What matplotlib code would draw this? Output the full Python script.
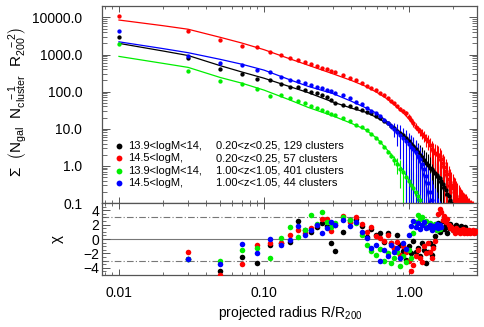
import matplotlib
matplotlib.use("Agg")
import matplotlib.pyplot as plt
from matplotlib.ticker import FuncFormatter, LogLocator, MultipleLocator, NullFormatter

plt.rcParams["font.family"] = ["Liberation Sans", "DejaVu Sans"]
plt.rcParams["mathtext.fontset"] = "custom"
plt.rcParams["mathtext.rm"] = "Liberation Sans"
plt.rcParams["mathtext.it"] = "Liberation Sans"

# radial bins (R/R200)
R_BINS = [
    0.01, 0.03, 0.05, 0.07, 0.09, 0.11, 0.13, 0.15, 0.17, 0.19, 0.21, 0.23, 0.25, 0.27, 0.29, 0.31,
    0.35, 0.39, 0.43, 0.47, 0.51, 0.55, 0.59, 0.63, 0.67, 0.71, 0.75, 0.79, 0.83, 0.87, 0.91, 0.95, 0.99,
    1.03, 1.07, 1.11, 1.15, 1.19, 1.23, 1.27, 1.31, 1.35, 1.39, 1.43, 1.47, 1.51, 1.55, 1.59, 1.63,
    1.67, 1.71, 1.75, 1.79, 1.83, 1.87, 1.91, 1.95, 1.99, 2.03, 2.07, 2.11, 2.15, 2.19, 2.23, 2.27,
    2.31, 2.35, 2.39, 2.43, 2.47, 2.51, 2.55, 2.59, 2.63, 2.67, 2.71, 2.75, 2.79, 2.83, 2.87,
]

# black: 13.9<logM<14, 0.20<z<0.25
black_sigma = [
    2940, 800, 415, 290, 215, 200, 160, 134, 136, 110, 100, 90, 79, 73, 60, 49,
    43, 41, 37, 33, 29, 26, 21.5, 19, 16.5, 14, 12, 10.2, 8.9, 7.6, 6.9, 5.5, 4.8,
    4.0, 3.4, 2.8, 2.3, 2.0, 1.7, 1.45, 1.2, 1.05, 0.9, 0.82, 0.75, 0.65, 0.56, 0.5, 0.46,
    0.38, 0.33, 0.27, 0.22, 0.18, 0.15, 0.12, 0.1, 0.08, 0.07, 0.06, 0.05, 0.05, 0.04, 0.04, 0.03,
    0.03, 0.03, 0.02, 0.02, 0.02,
]
black_err = [
    0, 0, 0, 0, 0, 0, 0, 0, 0, 0, 0, 0, 0, 0, 0, 0,
    0, 0, 0, 0, 0, 0, 0, 0, 0, 0, 0, 0, 0, 0, 1.5, 2.0, 2.2,
    2.2, 2.0, 1.9, 1.8, 1.6, 1.5, 1.3, 1.2, 1.1, 0.95, 0.85, 0.8, 0.7, 0.65, 0.6, 0.55,
    0.5, 0.45, 0.4, 0.35, 0.3, 0.28, 0.25, 0.22, 0.2, 0.18, 0.16, 0.15, 0.13, 0.12, 0.11, 0.1,
    0.08, 0.07, 0.06, 0.05, 0.05,
]
black_chi = [
    6.5, -2.8, -4.4, -2.45, -3.3, -0.8, -0.6, -0.4, 2.55, 1.3, 1.0, 1.6, 2.2, 1.8, -0.6, -1.7,
    1.0, 2.6, 2.8, 1.8, 0.3, 1.4, 0.5, 0.9, -0.4, 0.8, -0.6, -1.2, 0.5, -0.9, -1.6, -2.9, -1.0,
    -2.0, -0.3, -1.8, -1.2, -2.4, -0.6, -1.5, -3.3, -1.8, -0.5, -2.2, -1.0, 0.4, 1.3, 2.2, 1.0,
    1.6, 2.5, 1.4, 1.9, 0.8, 1.5, 2.1, 1.7, 1.2, 1.6, 1.3, 1.9, 1.5, 1.1, 1.4, 1.8,
    1.2, 1.5, 1.3, 1.6, 1.1,
]

# red: 14.5<logM, 0.20<z<0.25
red_sigma = [
    11000, 4200, 2400, 1750, 1550, 1200, 950, 790, 720, 640, 560, 500, 445, 405, 355, 330,
    285, 235, 205, 168, 140, 126, 108, 92, 81, 67, 57, 49, 42, 35, 31, 26, 21,
    17.5, 14, 11.5, 9.8, 8.5, 7.4, 6.5, 5.2, 4.6, 3.6, 2.9, 2.5, 2.2, 2.1, 2.0, 1.8,
    1.5, 1.2, 0.95, 0.75, 0.6, 0.45, 0.36, 0.3, 0.25, 0.2, 0.18, 0.15, 0.13, 0.11, 0.09, 0.08,
    0.07, 0.06, 0.06, 0.05, 0.05, 0.04, 0.04, 0.04, 0.03, 0.03, 0.03, 0.03, 0.02, 0.02, 0.02,
]
red_err = [
    0, 0, 0, 0, 0, 0, 0, 0, 0, 0, 0, 0, 0, 0, 0, 0,
    0, 0, 0, 0, 0, 0, 0, 0, 0, 0, 0, 0, 0, 4, 4, 4, 4,
    3.5, 3, 2.5, 2.2, 2.2, 2.2, 2.2, 2.0, 2.0, 1.9, 1.8, 1.7, 1.6, 1.5, 1.4, 1.3,
    1.1, 0.95, 0.85, 0.75, 0.65, 0.55, 0.45, 0.4, 0.35, 0.3, 0.28, 0.25, 0.22, 0.2, 0.18, 0.16,
    0.15, 0.14, 0.13, 0.12, 0.12, 0.11, 0.1, 0.1, 0.09, 0.09, 0.08, 0.08, 0.07, 0.07, 0.06,
]
red_chi = [
    7.0, -1.76, -4.95, -3.47, -0.79, -0.56, -0.5, 0.5, 1.2, 0.8, 1.5, 2.0, 2.8, 2.8, 1.1, 2.0,
    3.2, 2.4, 3.0, 2.1, 1.0, 1.6, 0.4, 0.2, -0.3, 0.6, -0.6, -1.2, -0.4, -2.2, -1.0, -1.8, -3.0,
    -4.4, -3.6, -2.4, -1.5, -2.6, -3.2, -1.0, -2.0, -0.5, -1.8, -2.6, -1.2, -0.3, 1.8, 3.5, 4.2,
    3.8, 2.6, 3.2, 2.3, 2.8, 1.9, 1.5, 1.7, 1.2, 1.3, 0.9, 1.5, 1.1, 1.3, 0.8, 1.2,
    1.0, 1.4, 0.9, 1.1, 1.3, 0.8, 1.0, 1.2, 0.9, 1.1, 1.0, 1.2, 0.9, 1.0, 1.1,
]

# green: 13.9<logM<14, 1.00<z<1.05
green_sigma = [
    1900, 350, 190, 165, 120, 78, 79, 66, 56, 48, 41, 36, 32, 28.5, 25.5, 23,
    19.5, 16, 13, 11.2, 9.0, 7.2, 5.6, 4.3, 3.3, 2.4, 1.9, 1.45, 1.1, 0.85, 0.68, 0.5, 0.38,
    0.30, 0.25, 0.2, 0.15, 0.12, 0.06, 0.05, 0.04, 0.04, 0.03, 0.03, 0.03, 0.02, 0.02, 0.02, 0.02,
]
green_err = [
    0, 0, 0, 0, 0, 0, 0, 0, 0, 0, 0, 0, 0, 0, 0, 0,
    0, 0, 0, 0, 0, 0, 0, 0, 0, 0, 0.3, 0.4, 0.5, 0.6, 0.65, 0.6, 0.5,
    0.5, 0.45, 0.4, 0.35, 0.3, 0.06, 0.05, 0.05, 0.04, 0.04, 0.04, 0.03, 0.03, 0.03, 0.03, 0.03,
]
green_chi = [
    7.0, -2.8, -3.0, -1.5, -1.2, -2.7, 0.2, 1.6, 0.3, 1.2, 3.3, 2.1, 3.8, 2.4, 1.6, 2.2,
    3.0, 2.6, 2.2, 0.6, -0.8, -1.6, -2.2, -1.4, -3.0, -2.0, -3.4, -2.6, -1.8, -3.8, -2.4, -3.2, -1.5,
    -2.6, 0.8, 2.4, 3.4, 2.8, 3.0, 2.0, 2.5, 1.6, 2.2, 1.4, 1.8, 2.1, 1.2, 1.7, 1.4,
]

# blue: 14.5<logM, 1.00<z<1.05
blue_sigma = [
    4200, 890, 600, 530, 390, 340, 255, 208, 195, 172, 155, 133, 124, 110, 102, 93,
    80, 66, 54, 46, 37, 31, 26, 21.5, 17.5, 14, 12, 10, 8.4, 7.0, 5.8, 4.6, 3.8,
    3.2, 2.9, 2.4, 1.9, 1.5, 1.1, 0.8, 0.55, 0.35, 0.2, 0.12, 0.08, 0.06, 0.05, 0.04, 0.03,
    0.03,
]
blue_err = [
    0, 0, 0, 0, 0, 0, 0, 0, 0, 0, 0, 0, 0, 0, 0, 0,
    0, 0, 0, 0, 0, 0, 0, 0, 0, 0, 2, 4, 5, 5.5, 5.0, 4.6, 4.0,
    3.4, 3.1, 2.6, 2.1, 1.7, 1.3, 1.0, 0.8, 0.6, 0.45, 0.3, 0.25, 0.2, 0.15, 0.1, 0.08,
    0.06,
]
blue_chi = [
    7.0, -2.8, -3.5, -0.74, -1.9, 0.0, -0.9, -0.2, 1.8, 0.5, 1.2, 2.0, 0.9, 1.5, 2.4, 2.0,
    2.6, 1.8, 2.3, 1.0, 0.2, -1.2, -0.8, -3.1, -1.5, -2.3, -0.9, -1.8, -1.2, -2.6, -0.5, -1.4, 0.6,
    1.8, 2.5, 1.6, 2.2, 1.4, 1.9, 2.3, 1.5, 1.7, 2.0, 1.3, 1.8, 1.6, 2.1, 1.5, 1.9,
    1.7,
]

# fitted profiles
MODEL_R = [0.01, 0.02, 0.03, 0.05, 0.07, 0.1, 0.15, 0.2, 0.3, 0.4, 0.5, 0.6, 0.7,
           0.8, 0.9, 1.0, 1.1, 1.2, 1.3, 1.4, 1.5, 1.6, 1.7, 1.8, 1.9, 2.0]
black_model = [2000, 1250, 940, 500, 340, 230, 137, 95, 52, 36, 28, 20, 14,
               10, 7.2, 5.0, 3.3, 2.1, 1.4, 0.9, 0.6, 0.4, 0.25, 0.15, 0.09]
red_model = [8500, 6000, 4800, 2900, 2050, 1350, 770, 520, 300, 200, 140, 95, 65,
             42, 28, 18, 12, 8.5, 5.8, 3.9, 2.5, 1.6, 0.95, 0.5, 0.22, 0.08]
green_model = [890, 580, 450, 240, 170, 110, 60, 38, 22, 14, 9.5, 5.5, 2.8,
               1.5, 0.8, 0.4, 0.18, 0.07]
blue_model = [2200, 1450, 1120, 740, 550, 380, 210, 140, 88, 55, 37, 26, 16,
              10, 6.5, 4.0, 2.3, 1.1, 0.35, 0.08]

LEGEND_MASS = ["13.9<logM<14,", "14.5<logM,", "13.9<logM<14,", "14.5<logM,"]
LEGEND_REST = ["0.20<z<0.25, 129 clusters", "0.20<z<0.25, 57 clusters",
               "1.00<z<1.05, 401 clusters", "1.00<z<1.05, 44 clusters"]
COLORS = ["#000000", "#ff0000", "#00ee00", "#0000ff"]

series = [
    (black_sigma, black_err, black_chi, black_model),
    (red_sigma, red_err, red_chi, red_model),
    (green_sigma, green_err, green_chi, green_model),
    (blue_sigma, blue_err, blue_chi, blue_model),
]

AX_COLOR = "#555555"

fig = plt.figure(figsize=(4.84, 3.27), dpi=100)
ax = fig.add_axes([0.2101, 0.3792, 0.7748, 0.6034])
axc = fig.add_axes([0.2101, 0.1590, 0.7748, 0.2202], sharex=ax)

ax.set_xscale("log")
ax.set_yscale("log")

for (sig, err, chi, model), col in zip(series, COLORS):
    n = len(sig)
    r = R_BINS[:n]
    ax.plot(MODEL_R[:len(model)], model, color=col, lw=0.9, zorder=2)
    ax.errorbar(r, sig, yerr=err, fmt="o", ms=2.1, color=col, ecolor=col,
                elinewidth=0.8, capsize=0, zorder=3)
    axc.plot(r, chi, "o", ms=4.0, color=col, mec="none", zorder=3)

ax.set_xlim(0.0076, 2.92)
ax.set_ylim(0.1, 2.07e4)
axc.set_ylim(-5, 5)

axc.axhline(0, color="#777777", lw=0.8, zorder=1)
for lvl in (-3, 3):
    axc.axhline(lvl, color="#777777", lw=0.8, ls="-.", dashes=(6, 2, 1, 2), zorder=1)

# ticks
for a in (ax, axc):
    a.tick_params(which="both", direction="in", top=True, right=True, colors=AX_COLOR,
                  labelcolor="black")
    a.tick_params(which="major", length=4.5, width=0.7)
    a.tick_params(which="minor", length=2.2, width=0.6)
    for s in a.spines.values():
        s.set_color(AX_COLOR)
        s.set_linewidth(0.9)

ax.xaxis.set_major_locator(LogLocator(base=10))
ax.xaxis.set_minor_locator(LogLocator(base=10, subs=range(2, 10)))
ax.tick_params(axis="x", labelbottom=False)
ax.yaxis.set_major_locator(LogLocator(base=10))
ax.yaxis.set_minor_locator(LogLocator(base=10, subs=range(2, 10), numticks=20))
ax.yaxis.set_minor_formatter(NullFormatter())
ax.yaxis.set_major_formatter(FuncFormatter(lambda v, p: "%.1f" % v))
ax.tick_params(axis="y", which="major", length=6, pad=14, labelsize=10)
ax.tick_params(axis="y", which="minor", length=3.5)

axc.xaxis.set_major_formatter(FuncFormatter(lambda v, p: "%.2f" % v))
axc.xaxis.set_minor_formatter(NullFormatter())
axc.tick_params(axis="x", which="major", pad=8, labelsize=10)
axc.yaxis.set_major_locator(MultipleLocator(2))
axc.yaxis.set_minor_locator(MultipleLocator(0.5))
axc.yaxis.set_major_formatter(FuncFormatter(lambda v, p: ("%d" % v).replace("-", "\u2212")))
axc.tick_params(axis="y", which="major", pad=1.5, labelsize=10, length=6)
axc.tick_params(axis="y", which="minor", length=3)

# labels
fig.text(0.036, 0.688,
         r"$\Sigma\ \ \left(\mathrm{N_{gal}\ \ N_{cluster}^{\ \ -1}\ \ R_{200}^{\ \ -2}}\right)$",
         rotation=90, ha="center", va="center", fontsize=11)
fig.text(0.120, 1 - 239 / 327, r"$\chi$", rotation=90, ha="center", va="center", fontsize=11)
fig.text(0.600, 0.043, r"projected radius R/R$_{\mathrm{200}}$", ha="center", va="center",
         fontsize=10)

# legend
rows_y = [0.290, 0.228, 0.164, 0.103]
for yy, col, m, rest in zip(rows_y, COLORS, LEGEND_MASS, LEGEND_REST):
    ax.plot([0.046], [yy], "o", ms=4.2, color=col, mec="none", transform=ax.transAxes,
            clip_on=False)
    ax.text(0.070, yy, m, transform=ax.transAxes, va="center", ha="left", fontsize=8)
    ax.text(0.305, yy, rest, transform=ax.transAxes, va="center", ha="left", fontsize=8)

fig.savefig("out.png", dpi=100)
